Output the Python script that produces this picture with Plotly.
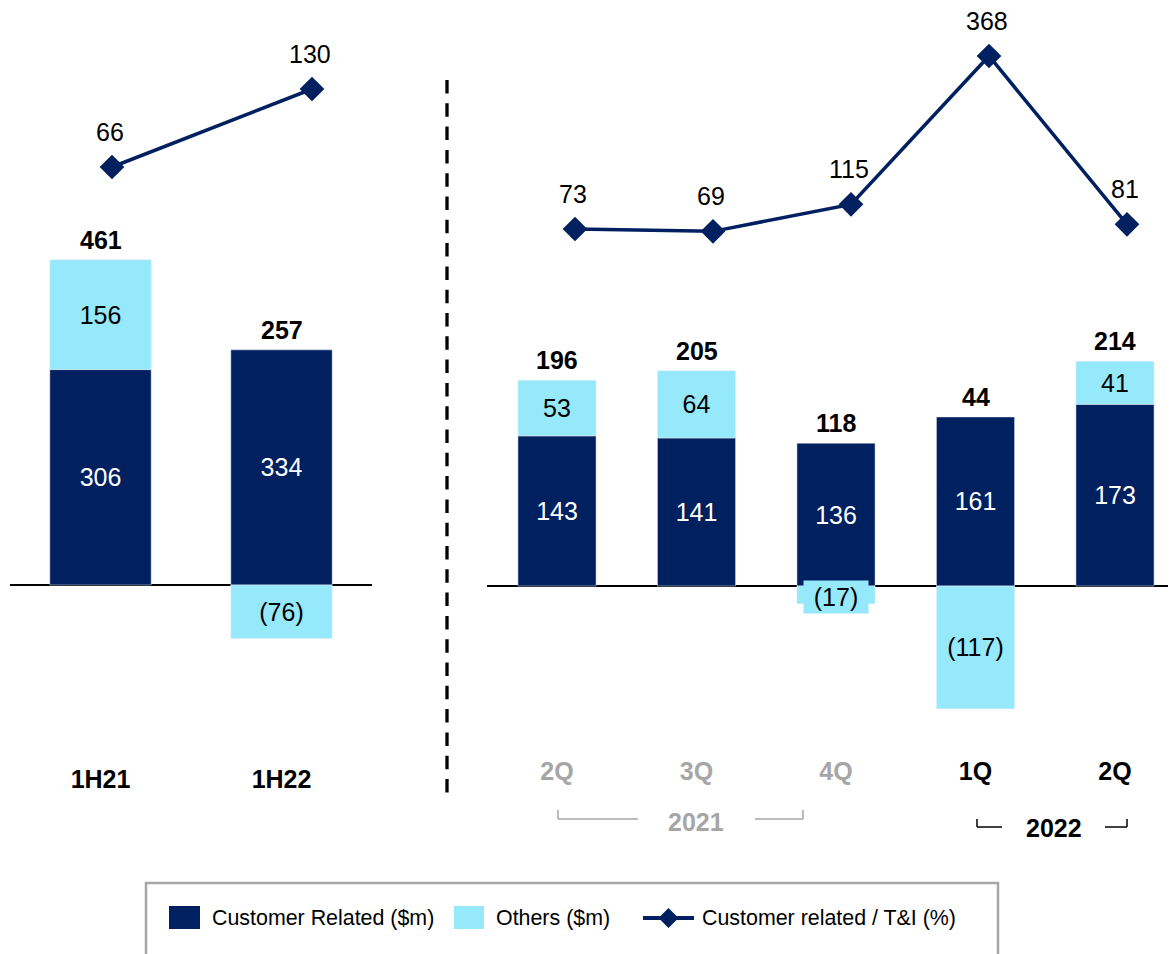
import plotly.graph_objects as go

# half-year panel
half_cats = ["1H21", "1H22"]
half_labels = ["1H21", "1H22"]
half_customer = [306, 334]
half_others = [156, -76]
half_total = [461, 257]
half_pct = [66, 130]

# quarterly panel
q_cats = ["2Q21", "3Q21", "4Q21", "1Q22", "2Q22"]
q_labels = ["2Q", "3Q", "4Q", "1Q", "2Q"]
q_label_grey = [True, True, True, False, False]
q_customer = [143, 141, 136, 161, 173]
q_others = [53, 64, -17, -117, 41]
q_total = [196, 205, 118, 44, 214]
q_pct = [73, 69, 115, 368, 81]

NAVY = "#002060"
CYAN = "#96E9FB"
GREY = "#A6A6A6"
FONT = "Liberation Sans, Arial, sans-serif"
FS = 25
OFF = 8  # page body margin
W, H = 1176 - OFF, 954 - OFF


def X(px):
    return (px - OFF) / W


def Y(py):
    return 1 - (py - OFF) / H


def fmt(v):
    return f"({abs(v)})" if v < 0 else str(v)


def bar_range(base, scale, bottom):
    return [(base - bottom) / scale, (base - OFF) / scale]


def line_range(v0, p0, scale, bottom):
    return [v0 + (p0 - bottom) / scale, v0 + (p0 - OFF) / scale]


def cat_range(first_px, step, d0, d1):
    return [-(first_px - d0) / step, (d1 - first_px) / step]


BOT_L, BOT_R = 760, 754
DOM_L, DOM_R = (10, 372), (487, 1176)

fig = go.Figure()

# ---- bars
for xs, cust, oth, xa, ya in [(half_cats, half_customer, half_others, "x", "y"),
                              (q_cats, q_customer, q_others, "x2", "y3")]:
    fig.add_trace(go.Bar(x=xs, y=cust, marker_color=NAVY, xaxis=xa, yaxis=ya,
                         text=[fmt(v) for v in cust], textposition="inside",
                         insidetextanchor="middle", textangle=0,
                         insidetextfont=dict(color="white", size=FS, family=FONT),
                         name="Customer Related ($m)", showlegend=False))
    oth_text = [fmt(v) if abs(v) > 30 else "" for v in oth]
    fig.add_trace(go.Bar(x=xs, y=oth, marker_color=CYAN, xaxis=xa, yaxis=ya,
                         text=oth_text, textposition="inside",
                         insidetextanchor="middle", textangle=0,
                         insidetextfont=dict(color="black", size=FS, family=FONT),
                         name="Others ($m)", showlegend=False))

# ---- lines (own x axes: the markers sit right of the bar centres)
for xs, pct, xa, ya in [(half_cats, half_pct, "x3", "y2"), (q_cats, q_pct, "x4", "y4")]:
    fig.add_trace(go.Scatter(x=xs, y=pct, mode="lines+markers", xaxis=xa, yaxis=ya,
                             line=dict(color=NAVY, width=3.5),
                             marker=dict(symbol="diamond", size=19, color=NAVY),
                             name="Customer related / T&I (%)", showlegend=False,
                             cliponaxis=False))

ann = []
# totals above the stacks
for xs, cust, oth, tot, xa, ya in [
        (half_cats, half_customer, half_others, half_total, "x", "y"),
        (q_cats, q_customer, q_others, q_total, "x2", "y3")]:
    for c, cu, ot, t in zip(xs, cust, oth, tot):
        top = cu + max(ot, 0)
        ann.append(dict(x=c, y=top, xref=xa, yref=ya, text=f"<b>{t}</b>",
                        showarrow=False, yanchor="middle", yshift=20,
                        font=dict(size=FS, color="black", family=FONT)))
        if ot < 0 and abs(ot) <= 30:
            ann.append(dict(x=c, y=ot / 2, xref=xa, yref=ya, text=fmt(ot),
                            showarrow=False, yanchor="middle", yshift=-2,
                            bgcolor=CYAN, width=62, height=30,
                            font=dict(size=FS, color="black", family=FONT)))

# line labels above markers
for xs, pct, xa, ya in [(half_cats, half_pct, "x3", "y2"), (q_cats, q_pct, "x4", "y4")]:
    for c, p in zip(xs, pct):
        ann.append(dict(x=c, y=p, xref=xa, yref=ya, text=str(p),
                        showarrow=False, yanchor="middle", yshift=35, xshift=-2,
                        height=24,
                        font=dict(size=FS, color="black", family=FONT)))

# year labels
ann.append(dict(x=X(696), y=Y(822), xref="paper", yref="paper", text="<b>2021</b>",
                xanchor="center", yanchor="middle",
                showarrow=False, font=dict(size=FS, color=GREY, family=FONT)))
ann.append(dict(x=X(1054), y=Y(828), xref="paper", yref="paper", text="<b>2022</b>",
                xanchor="center", yanchor="middle",
                showarrow=False, font=dict(size=FS, color="black", family=FONT)))

# legend text
for px, txt in [(210, "Customer Related ($m)"), (494, "Others ($m)"),
                (700, "Customer related / T&I (%)")]:
    ann.append(dict(x=X(px), y=Y(918), xref="paper", yref="paper", text=txt,
                    showarrow=False, xanchor="left", yanchor="middle",
                    font=dict(size=21.4, color="black", family=FONT)))

shapes = []
# dashed separator
shapes.append(dict(type="line", xref="paper", yref="paper", x0=X(447), x1=X(447),
                   y0=Y(80), y1=Y(793), line=dict(color="black", width=3.3, dash="13.5px,9.8px")))


def seg(x0, y0, x1, y1, color, width=1.5):
    return dict(type="line", xref="paper", yref="paper", x0=X(x0), x1=X(x1),
                y0=Y(y0), y1=Y(y1), line=dict(color=color, width=width))


# year brackets
shapes += [seg(558, 810, 558, 819, GREY), seg(558, 819, 638, 819, GREY),
           seg(755, 819, 803, 819, GREY), seg(803, 810, 803, 819, GREY),
           seg(977, 819, 977, 827, "black"), seg(977, 827, 1002, 827, "black"),
           seg(1105, 827, 1127, 827, "black"), seg(1127, 819, 1127, 827, "black")]

# legend
shapes.append(dict(type="rect", xref="paper", yref="paper", x0=X(146), x1=X(998),
                   y0=Y(883), y1=Y(975), line=dict(color=GREY, width=2.5), fillcolor="white",
                   layer="below"))
shapes.append(dict(type="rect", xref="paper", yref="paper", x0=X(169), x1=X(200),
                   y0=Y(906), y1=Y(929), line=dict(width=0), fillcolor=NAVY))
shapes.append(dict(type="rect", xref="paper", yref="paper", x0=X(454), x1=X(484),
                   y0=Y(906), y1=Y(929), line=dict(width=0), fillcolor=CYAN))
shapes.append(seg(643, 918, 694, 918, NAVY, 4))
cx, cy, d = 668.5, 918, 10
shapes.append(dict(type="path", xref="paper", yref="paper",
                   path=f"M{X(cx - d)},{Y(cy)} L{X(cx)},{Y(cy - d)} L{X(cx + d)},{Y(cy)} L{X(cx)},{Y(cy + d)} Z",
                   fillcolor=NAVY, line=dict(width=0)))

q_ticktext = [f"<b><span style='color:{GREY}'>{t}</span></b>" if g else f"<b>{t}</b>"
              for t, g in zip(q_labels, q_label_grey)]

hidden = dict(visible=False, showgrid=False)

fig.update_layout(
    width=W, height=H, margin=dict(l=0, r=0, t=0, b=0),
    paper_bgcolor="white", plot_bgcolor="white",
    barmode="relative", bargap=0.44,
    font=dict(family=FONT, color="black"),
    xaxis=dict(domain=[X(DOM_L[0]), X(DOM_L[1])], anchor="y",
               range=cat_range(100.5, 181, *DOM_L),
               categoryorder="array", categoryarray=half_cats,
               tickvals=half_cats, ticktext=[f"<b>{t}</b>" for t in half_labels],
               tickfont=dict(size=FS, color="black", family=FONT),
               showgrid=False, showline=False, ticks="", ticklabelstandoff=2),
    yaxis=dict(domain=[Y(BOT_L), 1], anchor="x", range=bar_range(585, 0.704, BOT_L),
               showgrid=False, showticklabels=False, zeroline=True,
               zerolinecolor="black", zerolinewidth=1.6),
    xaxis3=dict(overlaying="x", anchor="y2", range=cat_range(112, 200, *DOM_L),
                categoryorder="array", categoryarray=half_cats, **hidden),
    yaxis2=dict(overlaying="y", anchor="x3", range=line_range(66, 167, 78 / 64, BOT_L), **hidden),
    xaxis2=dict(domain=[X(DOM_R[0]), X(DOM_R[1])], anchor="y3",
                range=cat_range(557, 139.5, *DOM_R),
                categoryorder="array", categoryarray=q_cats,
                tickvals=q_cats, ticktext=q_ticktext,
                tickfont=dict(size=FS, color="black", family=FONT),
                showgrid=False, showline=False, ticks=""),
    yaxis3=dict(domain=[Y(BOT_R), 1], anchor="x2", range=bar_range(586, 1.05, BOT_R),
                showgrid=False, showticklabels=False, zeroline=True,
                zerolinecolor="black", zerolinewidth=1.6),
    xaxis4=dict(overlaying="x2", anchor="y4", range=cat_range(575, 138, *DOM_R),
                categoryorder="array", categoryarray=q_cats, **hidden),
    yaxis4=dict(overlaying="y3", anchor="x4", range=line_range(73, 229, 173 / 295, BOT_R), **hidden),
    annotations=ann, shapes=shapes,
)

fig.write_html("out.html")
